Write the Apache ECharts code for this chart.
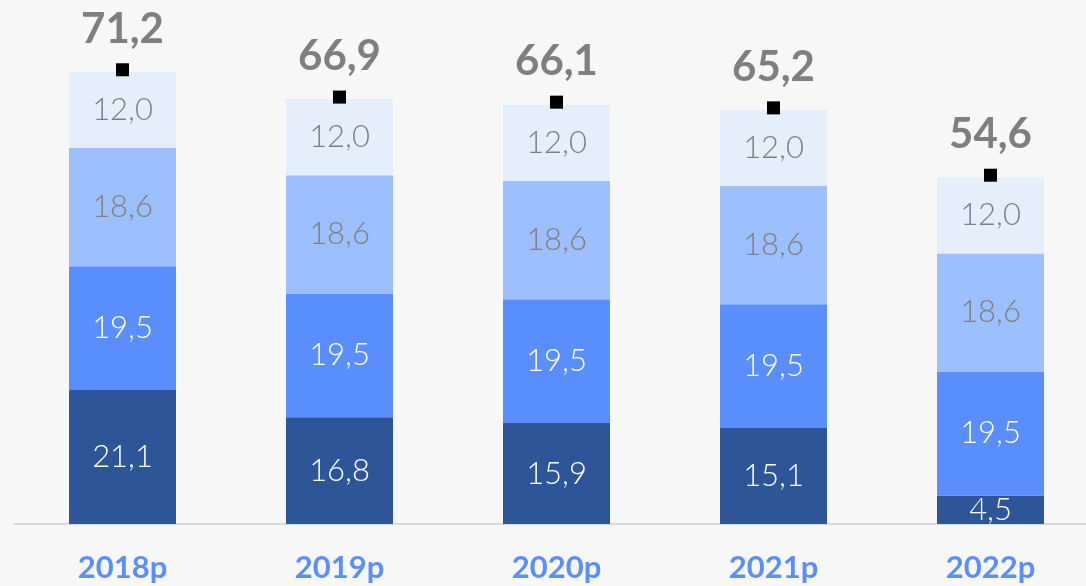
<!DOCTYPE html>
<html>
<head>
<meta charset="utf-8">
<script src="https://cdn.jsdelivr.net/npm/echarts@6/dist/echarts.min.js"></script>
<style>
  html, body { margin: 0; padding: 0; background: #f7f7f7; }
  #chart { width: 1086px; height: 586px; }
</style>
</head>
<body>
<div id="chart"></div>
<script>
var myChart = echarts.init(document.getElementById('chart'));

// 年份
var years = ['2018p', '2019p', '2020p', '2021p', '2022p'];
// 各层数值，从下往上
var layer1 = [21.1, 16.8, 15.9, 15.1, 4.5];
var layer2 = [19.5, 19.5, 19.5, 19.5, 19.5];
var layer3 = [18.6, 18.6, 18.6, 18.6, 18.6];
var layer4 = [12.0, 12.0, 12.0, 12.0, 12.0];
// 合计
var totals = [71.2, 66.9, 66.1, 65.2, 54.6];

var fontName = 'Lato';

function fmt(v) {
    return v.toFixed(1).replace('.', ',');
}

function layer(data, color, textColor) {
    return {
        type: 'bar',
        stack: 'total',
        data: data,
        barWidth: 107,
        itemStyle: { color: color },
        label: {
            show: true,
            position: 'inside',
            color: textColor,
            fontFamily: fontName,
            fontWeight: 300,
            fontSize: 31,
            formatter: function (p) { return fmt(p.value); }
        }
    };
}

option = {
    backgroundColor: '#f7f7f7',
    animation: false,
    grid: {
        left: 14,
        top: 0,
        bottom: 62,
        right: -13,
        outerBoundsMode: 'none'
    },
    xAxis: {
        type: 'category',
        data: years,
        axisTick: { show: false },
        axisLine: { lineStyle: { color: '#d9d9d9', width: 2 } },
        axisLabel: {
            color: '#5b8efd',
            fontFamily: fontName,
            fontWeight: 'bold',
            fontSize: 31,
            margin: 28
        }
    },
    yAxis: {
        type: 'value',
        show: false,
        min: 0,
        max: 82.5,
        splitLine: { show: false }
    },
    series: [
        layer(layer1, '#2e5597', '#ffffff'),
        layer(layer2, '#5b8efd', '#ffffff'),
        layer(layer3, '#9ebffd', '#7f7f7f'),
        layer(layer4, '#e5effc', '#7f7f7f'),
        {
            // 合计标记
            type: 'scatter',
            data: totals,
            symbol: 'rect',
            symbolSize: 13,
            symbolOffset: [0, -2],
            z: 10,
            itemStyle: { color: '#000000', opacity: 1 },
            label: {
                show: true,
                position: 'top',
                distance: 13,
                color: '#7f7f7f',
                fontFamily: fontName,
                fontWeight: 'bold',
                fontSize: 42,
                formatter: function (p) { return fmt(p.value); }
            }
        }
    ]
};
myChart.setOption(option);
</script>
</body>
</html>
